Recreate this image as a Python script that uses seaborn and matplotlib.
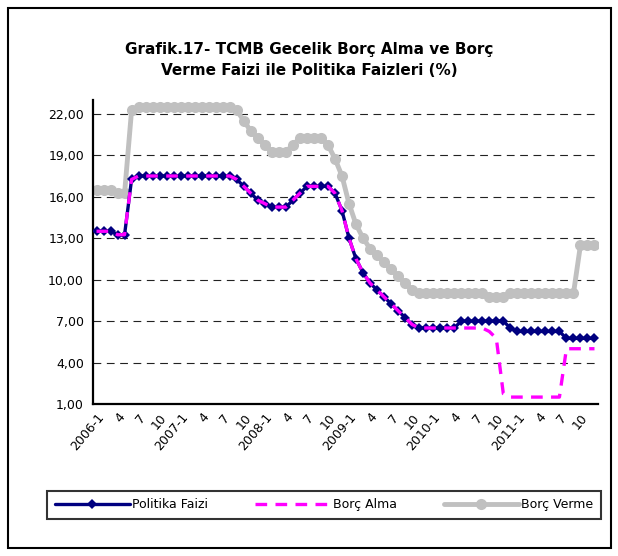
import matplotlib
matplotlib.use("Agg")
import matplotlib.pyplot as plt
from matplotlib.patches import Rectangle
from matplotlib.ticker import FuncFormatter, FixedLocator
import numpy as np
import pandas as pd
import seaborn as sns

# monthly observations, 2006-1 .. 2011-12
months = pd.period_range("2006-01", periods=72, freq="M").astype(str)

politika_faizi = [
    13.5, 13.5, 13.5, 13.25, 13.25, 17.25, 17.5, 17.5, 17.5, 17.5, 17.5, 17.5,
    17.5, 17.5, 17.5, 17.5, 17.5, 17.5, 17.5, 17.5, 17.25, 16.75, 16.25, 15.75,
    15.5, 15.25, 15.25, 15.25, 15.75, 16.25, 16.75, 16.75, 16.75, 16.75, 16.25, 15.0,
    13.0, 11.5, 10.5, 9.75, 9.25, 8.75, 8.25, 7.75, 7.25, 6.75, 6.5, 6.5,
    6.5, 6.5, 6.5, 6.5, 7.0, 7.0, 7.0, 7.0, 7.0, 7.0, 7.0, 6.5,
    6.25, 6.25, 6.25, 6.25, 6.25, 6.25, 6.25, 5.75, 5.75, 5.75, 5.75, 5.75,
]
borc_alma = [
    13.5, 13.5, 13.5, 13.25, 13.25, 17.25, 17.5, 17.5, 17.5, 17.5, 17.5, 17.5,
    17.5, 17.5, 17.5, 17.5, 17.5, 17.5, 17.5, 17.5, 17.25, 16.75, 16.25, 15.75,
    15.5, 15.25, 15.25, 15.25, 15.75, 16.25, 16.75, 16.75, 16.75, 16.75, 16.25, 15.0,
    13.0, 11.5, 10.5, 9.75, 9.25, 8.75, 8.25, 7.75, 7.25, 6.75, 6.5, 6.5,
    6.5, 6.5, 6.5, 6.5, 6.5, 6.5, 6.5, 6.5, 6.25, 5.75, 1.75, 1.5,
    1.5, 1.5, 1.5, 1.5, 1.5, 1.5, 1.5, 5.0, 5.0, 5.0, 5.0, 5.0,
]
borc_verme = [
    16.5, 16.5, 16.5, 16.25, 16.25, 22.25, 22.5, 22.5, 22.5, 22.5, 22.5, 22.5,
    22.5, 22.5, 22.5, 22.5, 22.5, 22.5, 22.5, 22.5, 22.25, 21.5, 20.75, 20.25,
    19.75, 19.25, 19.25, 19.25, 19.75, 20.25, 20.25, 20.25, 20.25, 19.75, 18.75, 17.5,
    15.5, 14.0, 13.0, 12.25, 11.75, 11.25, 10.75, 10.25, 9.75, 9.25, 9.0, 9.0,
    9.0, 9.0, 9.0, 9.0, 9.0, 9.0, 9.0, 9.0, 8.75, 8.75, 8.75, 9.0,
    9.0, 9.0, 9.0, 9.0, 9.0, 9.0, 9.0, 9.0, 9.0, 12.5, 12.5, 12.5,
]

tick_labels = [
    "2006-1", "4", "7", "10", "2007-1", "4", "7", "10",
    "2008-1", "4", "7", "10", "2009-1", "4", "7", "10",
    "2010-1", "4", "7", "10", "2011-1", "4", "7", "10",
]
y_ticks = [1, 4, 7, 10, 13, 16, 19, 22]

df = pd.DataFrame({
    "ay": months,
    "Politika Faizi": politika_faizi,
    "Borç Alma": borc_alma,
    "Borç Verme": borc_verme,
})
df["pos"] = np.arange(len(df))

sns.set_style("white")
plt.rcParams["font.family"] = ["DejaVu Sans"]
plt.rcParams["text.color"] = "black"
plt.rcParams["xtick.color"] = "black"
plt.rcParams["ytick.color"] = "black"

fig = plt.figure(figsize=(6.18, 5.56), dpi=100)
ax = fig.add_axes([93 / 618, 1 - 404 / 556, 505 / 618, 304 / 556])

sns.lineplot(data=df, x="pos", y="Borç Verme", ax=ax, color="#C0C0C0",
             lw=3.5, marker="o", markersize=8, markeredgewidth=0,
             label="Borç Verme", zorder=2)
sns.lineplot(data=df, x="pos", y="Politika Faizi", ax=ax, color="#000080",
             lw=2.4, marker="D", markersize=5.5, markeredgewidth=0,
             label="Politika Faizi", zorder=3)
sns.lineplot(data=df, x="pos", y="Borç Alma", ax=ax, color="#FF00FF",
             lw=2.4, linestyle=(0, (3.5, 2.5)), label="Borç Alma", zorder=4)

ax.set_xlim(-0.5, len(df) - 0.5)
ax.set_ylim(1, 23)
ax.set_xlabel("")
ax.set_ylabel("")

ax.yaxis.set_major_locator(FixedLocator(y_ticks))
ax.yaxis.set_major_formatter(FuncFormatter(lambda v, p: f"{v:.2f}".replace(".", ",")))
ax.yaxis.grid(True, color="#222222", lw=0.8, linestyle=(0, (7, 5)))
ax.xaxis.grid(False)

ax.set_xticks(np.arange(0, 3 * len(tick_labels), 3))
ax.set_xticklabels(tick_labels, rotation=50, ha="right", rotation_mode="anchor")
ax.set_xticks(np.arange(-0.5, len(df), 1), minor=True)
ax.tick_params(axis="x", which="major", length=0, labelsize=9, pad=5)
ax.tick_params(axis="x", which="minor", length=3, width=1.5, direction="out", color="black")
ax.tick_params(axis="y", length=6, width=1.2, direction="inout", labelsize=9, color="black")

for side in ["top", "right"]:
    ax.spines[side].set_visible(False)
for side in ["left", "bottom"]:
    ax.spines[side].set_color("black")
    ax.spines[side].set_linewidth(1.6)

ax.get_legend().remove()
handles, labels = ax.get_legend_handles_labels()
order = [labels.index(n) for n in ["Politika Faizi", "Borç Alma", "Borç Verme"]]
leg = fig.legend([handles[i] for i in order], [labels[i] for i in order],
                 loc="center", ncol=3, mode="expand",
                 bbox_to_anchor=(47 / 618, 1 - 521 / 556, 554 / 618, 33 / 556),
                 fancybox=False, frameon=True, fontsize=9, handlelength=6,
                 handletextpad=0.2, borderaxespad=0, borderpad=0.6)
leg.get_frame().set_edgecolor("black")
leg.get_frame().set_linewidth(1.5)

fig.text(309 / 618, 1 - 60 / 556,
         "Grafik.17- TCMB Gecelik Borç Alma ve Borç\nVerme Faizi ile Politika Faizleri (%)",
         ha="center", va="center", fontsize=11, fontweight="bold",
         linespacing=1.5, color="black")

fig.patches.append(Rectangle((8 / 618, 1 - 548 / 556), 603 / 618, 540 / 556,
                             transform=fig.transFigure, fill=False,
                             edgecolor="black", lw=1.5))

fig.savefig("out.png", dpi=100)
